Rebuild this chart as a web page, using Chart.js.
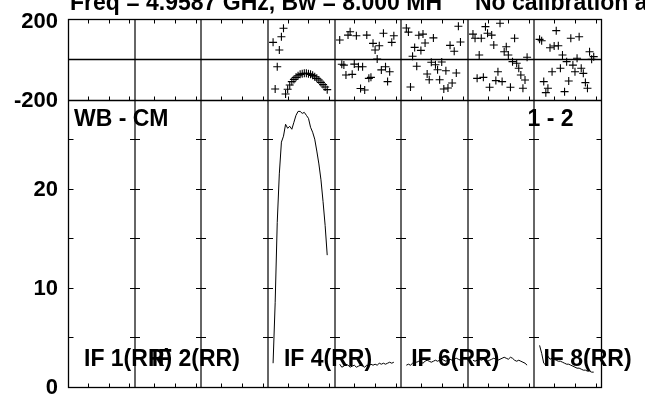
<!DOCTYPE html>
<html>
<head>
<meta charset="utf-8">
<script src="https://cdn.jsdelivr.net/npm/chart.js@4"></script>
<style>
  html, body { margin: 0; padding: 0; background: #fff; }
  canvas { display: block; }
</style>
</head>
<body>
<canvas id="possm" width="645" height="395"></canvas>
<script>
// channels per IF and the channels that carry data
var NCHAN = 32;
var CHANNELS = [3, 4, 5, 6, 7, 8, 9, 10, 11, 12, 13, 14, 15, 16, 17, 18, 19, 20, 21, 22, 23, 24, 25, 26, 27, 28, 29];
var IFS = [1, 2, 3, 4, 5, 6, 7, 8];

// amplitude per IF (IF 1-3 have no data)
var AMP_IF4 = [2.4, 8.5, 16.6, 21.5, 24.7, 25.3, 26.5, 26.1, 26.3, 26.0, 26.7, 27.4, 27.8, 27.8, 27.6, 27.7, 27.4, 27.1, 26.2, 25.7, 25.0, 23.8, 22.5, 20.9, 18.7, 16.3, 13.3];
var AMP_IF5 = [2.3, 2.0, 2.1, 2.3, 2.2, 2.0, 2.1, 2.2, 2.0, 2.1, 2.2, 2.1, 2.0, 2.2, 2.1, 2.3, 2.2, 2.3, 2.2, 2.4, 2.3, 2.4, 2.3, 2.4, 2.5, 2.4, 2.5];
var AMP_IF6 = [2.2, 2.3, 2.2, 2.4, 2.6, 2.5, 2.6, 2.5, 2.4, 2.6, 2.7, 2.6, 2.5, 2.6, 2.7, 2.6, 2.7, 2.8, 2.7, 2.6, 2.7, 2.8, 2.7, 2.8, 2.9, 2.8, 2.7];
var AMP_IF7 = [2.7, 2.6, 2.7, 2.8, 2.7, 2.8, 2.7, 2.6, 2.7, 2.8, 2.9, 2.8, 2.7, 2.8, 2.9, 3.0, 2.9, 2.8, 3.0, 2.9, 2.7, 2.6, 2.7, 2.6, 2.5, 2.4, 2.2];
var AMP_IF8 = [4.2, 3.4, 2.4, 2.2, 3.1, 2.8, 2.9, 2.8, 2.7, 2.6, 2.6, 2.5, 2.4, 2.3, 2.3, 2.2, 2.1, 2.0, 1.9, 1.9, 1.8, 1.7, 1.7, 1.6, 1.6, 1.5, 1.5];

// phase (degrees) per IF
var PHASE_IF4 = [84, -148, -37, 46, 112, 154, -173, -149, -128, -111, -100, -90, -82, -75, -72, -70, -70, -72, -75, -80, -87, -95, -103, -115, -126, -138, -151];
var PHASE_IF5 = [96, -25, -29, -78, 120, 137, -75, -24, 117, -37, -145, -37, -153, 120, -95, -90, 79, 46, 1, 67, -53, 129, -37, -111, -62, 84, 117];
var PHASE_IF6 = [155, 135, -138, 15, 59, -35, 119, 44, 125, 81, -73, -102, -15, 106, -27, -52, -102, -14, -148, -57, -143, 69, -118, 40, -68, 164, 86];
var PHASE_IF7 = [125, 104, -95, 21, 104, -90, 162, 129, -139, 120, 71, -106, -62, 179, -111, 37, 62, 21, -139, -12, 104, -20, -45, -78, -144, -103, 10];
var PHASE_IF8 = [99, 92, -111, -166, -144, 57, -62, 66, 142, 67, -45, 21, -161, -12, -108, 104, -29, -62, 5, 112, -45, -70, -116, -144, 37, 0, 13];

var AMP_BY_IF = { 4: AMP_IF4, 5: AMP_IF5, 6: AMP_IF6, 7: AMP_IF7, 8: AMP_IF8 };
var PHASE_BY_IF = { 4: PHASE_IF4, 5: PHASE_IF5, 6: PHASE_IF6, 7: PHASE_IF7, 8: PHASE_IF8 };

// axes
var AMP_MIN = 0, AMP_MAX = 29;
var PHASE_MIN = -200, PHASE_MAX = 200;
var AMP_LABELS = [0, 10, 20];
var AMP_MINOR = [5, 10, 15, 20, 25];
var PHASE_LABELS = [200, -200];
var CHAN_TICKS = [10, 20, 30];

// texts
var TITLE_1 = "Freq = 4.9587 GHz, Bw = 8.000 MH";
var TITLE_2 = "No calibration a";
var SOURCE_LABEL = "WB - CM";
var BASELINE_LABEL = "1 - 2";
var IF_LABEL_IFS = [1, 2, 4, 6, 8];
var IF_LABEL_DX = [16, 17, 16, 10, 9];

function chanX(ifNum, ch) {
    return (ifNum - 1) * NCHAN + ch;
}

var datasets = [];
IFS.forEach(function (k) {
    var amp = AMP_BY_IF[k];
    var ph = PHASE_BY_IF[k];
    if (!amp) return;
    datasets.push({
        label: "amp IF" + k,
        yAxisID: "yAmp",
        showLine: true,
        data: CHANNELS.map(function (c, i) { return { x: chanX(k, c), y: amp[i] }; }),
        borderColor: "#000",
        borderWidth: 1,
        pointRadius: 0,
        tension: 0
    });
    datasets.push({
        label: "phase IF" + k,
        yAxisID: "yPh",
        showLine: false,
        data: CHANNELS.map(function (c, i) { return { x: chanX(k, c), y: ph[i] }; }),
        pointStyle: "cross",
        pointRadius: 4,
        borderColor: "#000",
        pointBorderColor: "#000",
        pointBorderWidth: 1.1
    });
});

var FONT = 'bold 23px "Liberation Sans", Arial, sans-serif';
var FONT_AXIS = 'bold 22px "Liberation Sans", Arial, sans-serif';

function px(v) { return Math.round(v) + 0.5; }

var possmFrame = {
    id: "possmFrame",
    beforeDraw: function (chart) {
        var ctx = chart.ctx;
        ctx.save();
        ctx.fillStyle = "#fff";
        ctx.fillRect(0, 0, chart.width, chart.height);
        ctx.restore();
    },
    afterDatasetsDraw: function (chart) {
        var ctx = chart.ctx;
        var xs = chart.scales.x, ya = chart.scales.yAmp, yp = chart.scales.yPh;
        var left = px(xs.getPixelForValue(0.5));
        var right = px(xs.getPixelForValue(IFS.length * NCHAN + 0.5));
        var top = px(yp.getPixelForValue(PHASE_MAX));
        var mid = px(yp.getPixelForValue(PHASE_MIN));
        var zero = px(yp.getPixelForValue(0));
        var bottom = px(ya.getPixelForValue(AMP_MIN));
        ctx.save();

        // IF dividers
        ctx.strokeStyle = "#666";
        ctx.lineWidth = 2;
        for (var k = 1; k < IFS.length; k++) {
            var dx = Math.round(xs.getPixelForValue(k * NCHAN + 0.5));
            ctx.beginPath();
            ctx.moveTo(dx, top);
            ctx.lineTo(dx, bottom);
            ctx.stroke();
        }

        ctx.strokeStyle = "#000";
        ctx.lineWidth = 1.3;
        ctx.strokeRect(left, top, right - left, bottom - top);
        ctx.beginPath();
        ctx.moveTo(left, mid); ctx.lineTo(right, mid);
        ctx.moveTo(left, zero); ctx.lineTo(right, zero);
        ctx.stroke();

        // channel ticks
        ctx.lineWidth = 1;
        ctx.beginPath();
        IFS.forEach(function (k) {
            CHAN_TICKS.forEach(function (c) {
                var tx = px(xs.getPixelForValue(chanX(k, c)));
                ctx.moveTo(tx, bottom); ctx.lineTo(tx, bottom - 4);
                ctx.moveTo(tx, mid); ctx.lineTo(tx, mid - 4);
                ctx.moveTo(tx, top); ctx.lineTo(tx, top + 4);
            });
        });
        // amplitude ticks on axes and dividers
        AMP_MINOR.forEach(function (v) {
            var ty = px(ya.getPixelForValue(v));
            ctx.moveTo(left, ty); ctx.lineTo(left + 5, ty);
            ctx.moveTo(right, ty); ctx.lineTo(right - 5, ty);
            for (var k = 1; k < IFS.length; k++) {
                var dx = Math.round(xs.getPixelForValue(k * NCHAN + 0.5));
                ctx.moveTo(dx - 5, ty); ctx.lineTo(dx + 5, ty);
            }
        });
        ctx.stroke();
        ctx.restore();
    },
    afterDraw: function (chart) {
        var ctx = chart.ctx;
        var xs = chart.scales.x, ya = chart.scales.yAmp, yp = chart.scales.yPh;
        var left = xs.getPixelForValue(0.5);
        ctx.save();
        ctx.fillStyle = "#000";

        // title, cut by the top edge
        ctx.font = FONT;
        ctx.textBaseline = "alphabetic";
        ctx.textAlign = "left";
        ctx.fillText(TITLE_1, 70, 9.5);
        ctx.fillText(TITLE_2, 475, 9.5);

        // y labels
        ctx.font = FONT_AXIS;
        ctx.textAlign = "right";
        ctx.textBaseline = "middle";
        PHASE_LABELS.forEach(function (v) {
            var ty = yp.getPixelForValue(v) + (v > 0 ? 3 : 1);
            ctx.fillText(String(v), 58, ty);
        });
        AMP_LABELS.forEach(function (v) {
            ctx.fillText(String(v), 58, ya.getPixelForValue(v) + 1);
        });

        // panel labels
        ctx.font = FONT;
        ctx.textBaseline = "alphabetic";
        ctx.textAlign = "left";
        ctx.fillText(SOURCE_LABEL, left + 6, 125.5);
        ctx.textAlign = "right";
        ctx.fillText(BASELINE_LABEL, 573.5, 126);
        ctx.textAlign = "left";
        IF_LABEL_IFS.forEach(function (k, i) {
            var lx = xs.getPixelForValue((k - 1) * NCHAN + 0.5) + IF_LABEL_DX[i];
            ctx.fillText("IF " + k + "(RR)", lx, 366);
        });
        ctx.restore();
    }
};

new Chart(document.getElementById("possm"), {
    type: "scatter",
    data: { datasets: datasets },
    options: {
        responsive: false,
        animation: false,
        devicePixelRatio: 1,
        layout: { padding: { left: 68, right: 44, top: 19, bottom: 8 } },
        plugins: { legend: { display: false }, tooltip: { enabled: false }, title: { display: false } },
        scales: {
            x: { type: "linear", min: 0.5, max: IFS.length * NCHAN + 0.5, display: false },
            yAmp: { type: "linear", min: AMP_MIN, max: AMP_MAX, position: "left", stack: "v", stackWeight: 287.5, display: false },
            yPh: { type: "linear", min: PHASE_MIN, max: PHASE_MAX, position: "left", stack: "v", stackWeight: 80.5, display: false }
        }
    },
    plugins: [possmFrame]
});
</script>
</body>
</html>
